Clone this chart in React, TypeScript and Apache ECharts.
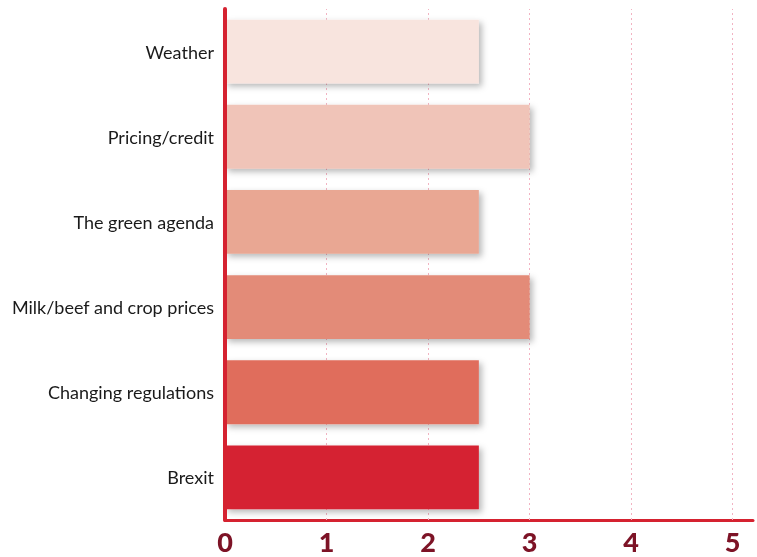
import React, { useEffect, useRef } from "react";
import * as echarts from "echarts";

// Categories listed bottom-to-top (ECharts category axis starts at the bottom)
const categories = [
  "Brexit",
  "Changing regulations",
  "Milk/beef and crop prices",
  "The green agenda",
  "Pricing/credit",
  "Weather",
];
const values = [2.5, 2.5, 3, 2.5, 3, 2.5];
const barColors = ["#D52230", "#E06D5C", "#E38B78", "#E9A793", "#F0C4B8", "#F8E4DE"];
const xTicks = [0, 1, 2, 3, 4, 5];
const gridTicks = [1, 2, 3, 4, 5];

export default function App() {
  const ref = useRef<HTMLDivElement>(null);

  useEffect(() => {
    if (!ref.current) return;
    const chart = echarts.init(ref.current, null, { renderer: "svg" });
    chart.setOption({
      animation: false,
      grid: { left: 225, right: 4, top: 9, bottom: 37, containLabel: false },
      xAxis: {
        type: "value",
        min: xTicks[0],
        max: 5.2,
        interval: 1,
        axisLine: { show: true, lineStyle: { color: "#D52230", width: 3 } },
        axisTick: { show: false },
        splitLine: { show: false },
        axisLabel: {
          color: "#7D1326",
          fontFamily: "Lato",
          fontWeight: 900,
          fontSize: 27,
          margin: 8,
          formatter: (v: number) => (xTicks.includes(v) ? String(v) : ""),
        },
      },
      yAxis: {
        type: "category",
        data: categories,
        axisLine: { show: true, lineStyle: { color: "#D52230", width: 4 } },
        axisTick: { show: false },
        splitLine: { show: false },
        z: 5,
        axisLabel: {
          color: "#1a1a1a",
          fontFamily: "Lato",
          fontSize: 18,
          margin: 11,
          padding: [5, 0, 0, 0],
        },
      },
      series: [
        {
          type: "bar",
          barCategoryGap: "25%",
          z: 3,
          data: values.map((v, i) => ({
            value: v,
            itemStyle: {
              color: barColors[i],
              shadowColor: "rgba(0,0,0,0.28)",
              shadowBlur: 6,
              shadowOffsetX: 3,
              shadowOffsetY: 3,
            },
          })),
          // dotted vertical gridlines at each whole unit
          markLine: {
            silent: true,
            symbol: "none",
            z: 1,
            label: { show: false },
            lineStyle: { color: "#F2B3C2", type: [2, 3], width: 1 },
            data: gridTicks.map((t) => ({ xAxis: t })),
          },
        },
      ],
    });
    return () => chart.dispose();
  }, []);

  return (
    <div
      ref={ref}
      style={{ position: "fixed", left: 0, top: 0, width: 757, height: 557 }}
    />
  );
}
